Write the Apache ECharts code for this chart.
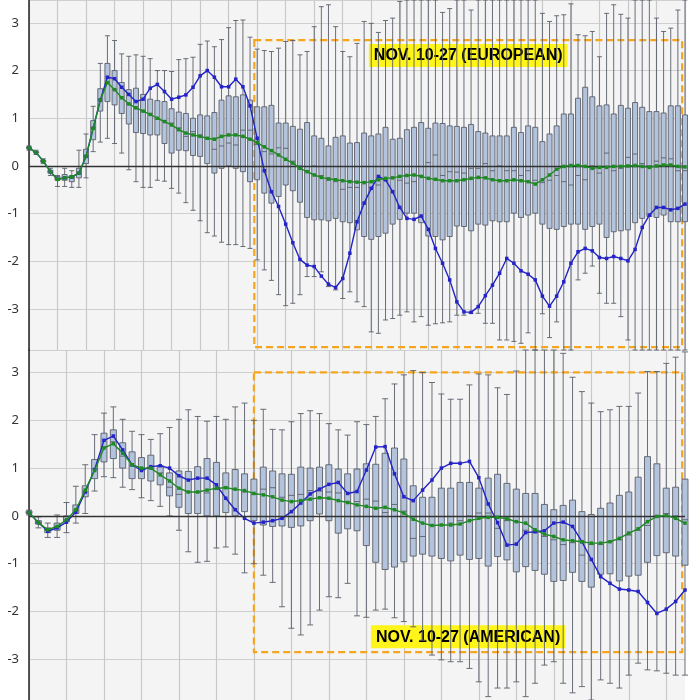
<!DOCTYPE html>
<html>
<head>
<meta charset="utf-8">
<script src="https://cdn.jsdelivr.net/npm/echarts@6/dist/echarts.min.js"></script>
<style>
  html, body { margin: 0; padding: 0; background: #fff; }
  #chart { width: 700px; height: 700px; }
</style>
</head>
<body>
<div id="chart"></div>
<script>
// ---- top panel (European), 93 runs
var topLow = [.33,.24,.05,-.2,-.43,-.43,-.45,-.45,-.25,.3,.5,.58,.47,.27,-.08,-.33,-.45,-.45,-.3,-.32,-.47,-.57,-.77,-.93,-1.15,-1.4,-1.47,-1.6,-1.65,-1.65,-1.69,-1.73,-1.97,-2.18,-2.4,-2.7,-2.93,-2.88,-2.7,-2.32,-2.32,-2.22,-2.53,-2.6,-2.78,-2.64,-2.85,-2.95,-3.48,-3.51,-3.23,-3.2,-3.13,-3.06,-3.27,-3.16,-3.34,-3.31,-3.29,-3.27,-3.13,-3.13,-3.09,-3.09,-3.3,-3.3,-3.65,-3.65,-3.68,-3.72,-3.5,-3.86,-3.1,-3.6,-3.27,-3.86,-3.86,-2.39,-2.25,-2.1,-2.67,-2.88,-2.88,-3.16,-3.65,-3.86,-3.86,-3.86,-3.86,-3.86,-3.86,-3.86,-3.86];
var topQ1 = [.36,.27,.08,-.15,-.3,-.3,-.33,-.25,.05,.55,1.15,1.35,1.28,1.1,.88,.7,.68,.65,.65,.47,.27,.33,.32,.22,.2,.05,-.15,-.05,0,-.05,-.12,-.33,-.29,-.57,-.78,-.64,-.4,-.52,-.76,-1.08,-1.13,-1.13,-1.15,-1.1,-1.17,-1.19,-1.34,-1.48,-1.54,-1.48,-1.41,-1.22,-1.12,-.99,-.99,-1.19,-1.47,-1.48,-1.55,-1.48,-1.26,-1.27,-1.36,-1.22,-1.24,-1.15,-1.17,-1.17,-.99,-1.08,-1.03,-.99,-1.22,-1.31,-1.33,-1.27,-1.22,-1.22,-1.33,-1.27,-1.22,-1.5,-1.38,-1.36,-1.34,-1.19,-1.1,-1.06,-1.08,-1.03,-1.17,-1.17,-1.17];
var topMed = [.38,.28,.1,-.12,-.27,-.25,-.25,-.15,.2,.8,1.4,1.75,1.6,1.45,1.3,1.2,1.15,1.1,.98,.95,.9,.8,.62,.72,.65,.57,.35,.42,.48,.44,.75,.75,.45,.3,.25,.38,.37,.1,0,-.1,0,-.2,-.3,-.33,-.49,-.45,-.45,-.35,-.45,-.4,-.3,-.25,-.3,-.36,-.33,-.2,.07,.23,-.2,-.12,-.13,-.15,-.05,-.05,.05,-.1,0,-.1,-.1,-.2,-.1,-.3,-.35,-.3,-.2,-.33,-.4,-.2,-.29,0,-.15,.27,-.1,-.05,.18,.25,.05,0,.1,.17,.15,-.1,-.1];
var topQ3 = [.4,.3,.12,-.09,-.22,-.18,-.2,-.05,.35,.95,1.62,2.15,2.0,1.75,1.6,1.63,1.5,1.4,1.37,1.35,1.2,1.13,1.1,1.0,1.07,1.05,1.12,1.38,1.47,1.45,1.49,1.38,1.24,1.24,1.27,.9,.9,.83,.77,.91,.63,.58,.42,.6,.63,.48,.49,.69,.63,.67,.81,.56,.58,.76,.81,.91,.79,.9,.89,.84,.83,.81,.87,.72,.69,.63,.63,.63,.81,.7,.84,.81,.51,.67,.84,1.09,1.09,1.42,1.65,1.45,1.26,1.28,1.09,1.27,1.21,1.33,1.23,1.14,1.14,1.11,1.26,1.26,1.07];
var topHigh = [.42,.33,.15,-.05,-.2,-.05,-.1,.33,.67,1.25,2.15,2.73,2.63,2.35,2.3,2.33,2.3,2.25,2.0,2.0,1.98,2.23,2.25,2.28,2.55,2.62,2.5,2.65,2.9,3.05,3.06,2.7,2.45,2.42,2.4,2.47,2.61,2.63,2.33,2.4,2.92,3.34,3.38,2.92,2.4,2.29,2.57,3.03,2.99,2.8,3.05,3.1,3.45,3.48,3.48,3.48,3.48,3.48,3.22,3.3,3.48,3.48,3.27,3.48,3.48,3.48,3.48,3.48,3.48,3.48,3.48,3.48,3.2,3.03,3.15,3.17,3.4,2.75,2.73,2.82,2.29,3.2,3.38,3.18,3.1,3.48,3.48,3.48,3.1,2.82,2.89,3.27,3.48];
var topMean = [.38,.28,.1,-.12,-.28,-.25,-.23,-.15,.2,.79,1.38,1.75,1.6,1.43,1.3,1.22,1.15,1.08,1.0,.93,.86,.76,.69,.65,.62,.58,.56,.62,.65,.65,.62,.56,.49,.4,.32,.23,.14,.06,-.05,-.12,-.19,-.24,-.27,-.29,-.31,-.33,-.34,-.35,-.33,-.29,-.26,-.25,-.22,-.2,-.19,-.22,-.26,-.28,-.31,-.31,-.31,-.29,-.26,-.24,-.25,-.29,-.31,-.31,-.29,-.31,-.33,-.38,-.29,-.19,-.07,-.01,.01,.01,-.01,-.05,-.03,-.03,-.01,-.01,0,.01,-.01,-.03,0,.02,.02,-.01,-.02];
var topOper = [.38,.28,.1,-.12,-.28,-.25,-.23,-.15,.2,.79,1.38,1.86,1.83,1.65,1.5,1.35,1.4,1.63,1.71,1.56,1.4,1.44,1.49,1.65,1.89,2.0,1.86,1.66,1.66,1.82,1.66,1.26,.58,-.1,-.54,-.85,-1.22,-1.61,-1.96,-2.08,-2.11,-2.31,-2.48,-2.55,-2.36,-1.83,-1.17,-.78,-.47,-.22,-.29,-.54,-.87,-1.1,-1.12,-1.05,-1.33,-1.73,-2.04,-2.39,-2.85,-3.06,-3.07,-2.95,-2.72,-2.5,-2.25,-1.94,-2.04,-2.2,-2.27,-2.39,-2.73,-2.94,-2.73,-2.43,-2.04,-1.8,-1.73,-1.78,-1.92,-1.94,-1.9,-1.94,-1.99,-1.75,-1.29,-1.03,-.87,-.87,-.92,-.89,-.8];

// ---- bottom panel (American), 71 runs
var botLow = [.02,-.25,-.45,-.45,-.35,-.15,.05,.52,.82,.8,.6,.55,.38,.32,.2,0,-.3,-.75,-.97,-.95,-.67,-.65,-.8,-1.19,-1.0,-1.24,-1.39,-1.9,-2.35,-2.49,-2.28,-1.97,-1.69,-1.71,-1.41,-2.09,-2.12,-1.97,-1.95,-2.13,-2.21,-2.32,-2.6,-2.91,-3.01,-3.05,-3.05,-3.19,-3.47,-3.78,-3.6,-3.6,-3.47,-3.78,-3.5,-3.12,-3.05,-3.5,-3.7,-3.57,-3.85,-3.43,-3.5,-3.6,-3.33,-3.08,-3.22,-3.24,-3.29,-3.33,-3.33];
var botQ1 = [.05,-.17,-.35,-.3,-.12,.05,.4,.78,1.13,1.2,1.0,.78,.78,.73,.65,.42,.18,.05,.05,0,0,.07,0,.09,-.1,-.19,-.22,-.21,-.24,-.21,-.1,.04,-.1,-.36,-.27,-.31,-.62,-.97,-1.12,-1.07,-.96,-.84,-.8,-.84,-.89,-.94,-.82,-.91,-.89,-1.05,-.85,-.92,-1.17,-1.06,-1.14,-1.22,-1.37,-1.35,-1.18,-1.37,-1.49,-1.22,-1.21,-1.36,-1.26,-1.24,-.97,-.83,-.77,-.84,-1.03];
var botMed = [.07,-.14,-.3,-.22,-.08,.12,.5,.98,1.45,1.55,1.25,1.05,1.0,1.0,.9,.6,.45,.5,.5,.48,.55,.6,.55,.5,.45,.56,.59,.39,.43,.45,.53,.52,.5,.48,.3,.3,.35,.31,.07,.24,.1,-.47,-.43,-.2,-.2,-.15,-.1,0,.06,.06,-.26,-.1,-.12,-.3,-.35,-.43,-.5,-.6,-.56,-.82,-.6,-.6,-.53,-.5,-.4,-.3,-.2,0,.05,0,-.08];
var botQ3 = [.1,-.1,-.25,-.15,0,.23,.63,1.18,1.73,1.8,1.53,1.34,1.22,1.27,1.05,.9,.94,.93,1.03,1.2,1.12,.9,.97,.88,.77,1.02,.94,.88,.87,1.02,1.0,1.02,1.07,.98,.88,.98,1.09,1.08,1.31,1.42,1.19,.63,.39,.39,.58,.58,.7,.7,.58,.79,.87,.68,.56,.47,.47,.24,.13,.22,.33,.09,.03,.16,.27,.43,.5,.81,1.24,1.09,.58,.6,.77];
var botHigh = [.12,-.02,-.15,.02,.28,.62,1.07,1.7,2.15,2.28,2.02,1.77,1.7,1.6,1.72,1.85,2.02,2.22,2.08,1.98,2.08,2.02,2.28,2.36,2.0,2.23,1.81,1.8,1.97,2.14,2.2,2.14,1.93,1.8,1.69,1.97,1.91,2.08,2.45,2.76,2.95,3.04,3.0,2.79,2.55,2.44,2.44,2.74,2.97,2.95,2.68,2.54,3.03,3.47,3.47,3.47,3.47,3.4,2.9,2.6,2.36,2.18,2.22,2.29,2.29,2.57,3.02,3.02,3.19,3.32,3.43];
var botMean = [.07,-.14,-.29,-.22,-.08,.13,.54,.95,1.42,1.51,1.31,1.07,1.0,1.0,.86,.73,.58,.5,.5,.54,.58,.59,.56,.53,.47,.44,.4,.33,.3,.32,.35,.38,.37,.32,.28,.23,.2,.16,.18,.13,.06,-.07,-.15,-.2,-.19,-.19,-.17,-.1,-.05,-.03,-.03,-.06,-.12,-.15,-.29,-.38,-.43,-.5,-.52,-.54,-.57,-.57,-.54,-.47,-.36,-.27,-.12,-.01,.01,-.05,-.15];
var botOper = [.07,-.14,-.32,-.25,-.13,.08,.5,.97,1.58,1.67,1.38,1.07,.95,1.03,1.05,1.0,.84,.75,.79,.79,.65,.37,.13,-.05,-.15,-.13,-.1,-.05,.09,.27,.46,.56,.66,.7,.47,.51,.96,1.44,1.45,.88,.4,.32,.54,.75,1.0,1.1,1.1,1.14,.8,.25,-.14,-.61,-.59,-.35,-.33,-.31,-.15,-.13,-.22,-.54,-.91,-1.27,-1.41,-1.53,-1.55,-1.58,-1.81,-2.04,-1.95,-1.79,-1.55];

var yTicks = [-3, -2, -1, 0, 1, 2, 3];
var topLabel = 'NOV. 10-27 (EUROPEAN)';
var botLabel = 'NOV. 10-27 (AMERICAN)';

var boxFill = '#b3c3dc';
var boxLine = '#5a5f6a';
var blue = '#2323c8';
var green = '#1d8a23';
var orange = '#f5a51e';

let cats = (n) => Array.from({length: n}, (v, i) => i);
let boxes = (lo, q1, md, q3, hi) => lo.map((v, i) => [lo[i], q1[i], md[i], q3[i], hi[i]]);

let yAxisCfg = (idx, min, max) => ({
  type: 'value', gridIndex: idx, min: min, max: max, splitNumber: 7,
  axisLine: {show: true, lineStyle: {color: '#222', width: 1.5}},
  axisTick: {show: false},
  axisLabel: {
    color: '#333', fontSize: 13, fontFamily: 'Noto Sans', margin: 10,
    showMinLabel: false, showMaxLabel: false,
    formatter: (v) => yTicks.indexOf(v) >= 0 ? String(v) : ''
  },
  splitLine: {lineStyle: {color: '#cfcfcf', width: 1.2}}
});
let xCatCfg = (idx, n) => ({
  type: 'category', gridIndex: idx, data: cats(n), boundaryGap: false,
  axisLine: {show: false}, axisTick: {show: false}, axisLabel: {show: false},
  splitLine: {show: true, interval: 3, lineStyle: {color: '#c8c8c8', width: 1.2}}
});
let xValCfg = (idx, n) => ({
  type: 'value', gridIndex: idx, min: 0, max: n - 1, show: false
});

let lineSeries = (name, data, color, xi, yi) => ({
  name: name, type: 'line', data: data, xAxisIndex: xi, yAxisIndex: yi,
  symbol: 'rect', symbolSize: 3.5, color: color,
  lineStyle: {color: color, width: 1.4}, itemStyle: {color: color}, z: name === 'mean' ? 5 : 4
});

// zero line and dashed window with its yellow caption
let annot = (xi, yi, x0, x1, y0, y1, text, pos) => ({
  type: 'line', data: [], xAxisIndex: xi, yAxisIndex: yi, silent: true,
  markLine: {
    silent: true, symbol: 'none', label: {show: false},
    lineStyle: {color: '#333', width: 1.3, type: 'solid'},
    data: [{yAxis: 0}]
  },
  markArea: {
    silent: true,
    itemStyle: {color: 'rgba(0,0,0,0)', borderColor: orange, borderWidth: 2.2, borderType: [7, 4]},
    label: {
      show: true, position: pos, distance: 5, color: '#000', fontSize: 16, fontWeight: 'bold',
      fontFamily: 'Liberation Sans', backgroundColor: '#fff51a', padding: [4, 5, 3, 5],
      textBorderWidth: 0, textShadowBlur: 0
    },
    data: [[{coord: [x0, y1], name: text}, {coord: [x1, y0]}]]
  },
  z: 10
});

var myChart = echarts.init(document.getElementById('chart'));
myChart.setOption({
  animation: false,
  backgroundColor: '#ffffff',
  grid: [
    {left: 29, right: 15, top: 0, height: 350, show: true, backgroundColor: '#f4f4f4', borderWidth: 0},
    {left: 29, right: 15, top: 350, height: 350, show: true, backgroundColor: '#f4f4f4', borderWidth: 0}
  ],
  xAxis: [xCatCfg(0, topMean.length), xCatCfg(1, botMean.length), xValCfg(0, topMean.length), xValCfg(1, botMean.length)],
  yAxis: [yAxisCfg(0, -3.86, 3.48), yAxisCfg(1, -3.85, 3.47)],
  series: [
    {
      type: 'boxplot', xAxisIndex: 0, yAxisIndex: 0, boxWidth: [5, 5],
      data: boxes(topLow, topQ1, topMed, topQ3, topHigh),
      itemStyle: {color: boxFill, borderColor: boxLine, borderWidth: 0.9}, z: 2
    },
    {
      type: 'boxplot', xAxisIndex: 1, yAxisIndex: 1, boxWidth: [6, 6],
      data: boxes(botLow, botQ1, botMed, botQ3, botHigh),
      itemStyle: {color: boxFill, borderColor: boxLine, borderWidth: 0.9}, z: 2
    },
    lineSeries('oper', topOper, blue, 0, 0),
    lineSeries('mean', topMean, green, 0, 0),
    lineSeries('oper', botOper, blue, 1, 1),
    lineSeries('mean', botMean, green, 1, 1),
    annot(2, 0, 31.6, 91.6, -3.8, 2.64, topLabel, 'insideTop'),
    annot(3, 1, 24.0, 69.7, -2.85, 3.0, botLabel, 'insideBottom')
  ]
});
</script>
</body>
</html>
